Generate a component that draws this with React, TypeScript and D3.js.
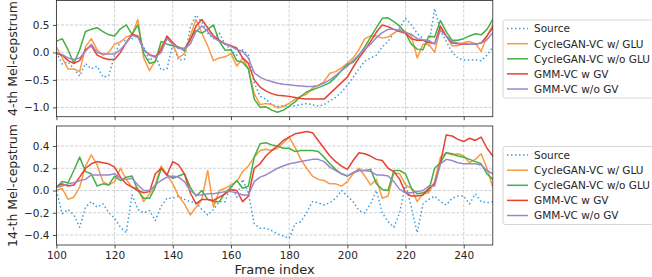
import { useEffect, useRef } from 'react'
import * as d3 from 'd3'

// frame index (every 2nd frame)
const frames = d3.range(100, 251, 2)

// 4-th Mel-cepstrum (upper panel)
const topSource = [
  0.0, -0.21, -0.17, -0.3, -0.43, -0.2, -0.3, -0.25, -0.45, -0.42,
  -0.05, 0.2, 0.22, 0.25, 0.3, 0.1, -0.15, -0.05, -0.32, -0.3,
  0.15, -0.14, -0.13, 0.45, 0.68, 0.55, 0.35, 0.25, 0.35, 0.15,
  0.05, -0.05, 0.05, -0.05, -0.55, -0.8, -0.85, -0.95, -0.98, -0.97,
  -0.98, -0.97, -0.95, -0.93, -0.95, -0.98, -0.95, -0.88, -0.82, -0.72,
  -0.6, -0.45, -0.3, -0.16, -0.1, -0.05, 0.1, 0.2, 0.35, 0.45,
  0.62, 0.5, 0.35, 0.25, 0.12, 0.8, 0.4, 0.2, 0.0, -0.1,
  -0.14, -0.14, -0.13, -0.15, -0.05, 0.1,
]
const topGluOn = [
  0.1, -0.1, -0.3, -0.3, -0.35, 0.1, 0.25, 0.05, -0.05, 0.0,
  0.15, 0.19, 0.28, 0.32, 0.6, -0.1, -0.33, -0.15, 0.1, 0.28,
  0.15, -0.1, -0.02, 0.3, 0.6, 0.35, 0.12, -0.15, -0.1, -0.08,
  -0.02, -0.25, -0.1, -0.3, -0.75, -0.95, -0.93, -0.95, -1.01, -0.98,
  -0.93, -0.85, -0.8, -0.76, -0.65, -0.6, -0.53, -0.38, -0.35, -0.28,
  -0.2, -0.1, 0.05, 0.25, 0.3, 0.3, 0.26, 0.28, 0.35, 0.42,
  0.38, 0.3, -0.1, 0.15, 0.15, 0.0, 0.45, 0.3, 0.12, 0.12,
  0.18, 0.2, 0.16, 0.02, 0.3, 0.5,
]
const topGluOff = [
  0.2, 0.25, 0.05, -0.2, 0.05, 0.38, 0.42, 0.45, 0.38, 0.32,
  0.3, 0.43, 0.5, 0.33, 0.5, -0.02, -0.2, -0.17, 0.2, 0.15,
  0.12, 0.1, 0.03, 0.25, 0.4, 0.35, 0.42, 0.5, 0.2, 0.04,
  0.05, -0.15, -0.18, -0.3, -0.85, -1.0, -0.99, -1.05, -1.09, -1.05,
  -0.98, -0.9, -0.8, -0.72, -0.68, -0.64, -0.6, -0.55, -0.45, -0.33,
  -0.22, -0.18, -0.05, 0.1, 0.28, 0.45, 0.62, 0.63, 0.56, 0.48,
  0.35, 0.15, 0.06, 0.05, 0.3, 0.28, 0.58, 0.38, 0.22, 0.22,
  0.25, 0.3, 0.34, 0.32, 0.42, 0.6,
]
const topGmmGv = [
  -0.02, -0.05, -0.15, -0.2, -0.15, 0.05, 0.12, -0.05, -0.1, -0.13,
  -0.13, 0.0, 0.18, 0.33, 0.3, 0.05, -0.04, -0.08, 0.05, 0.3,
  0.18, 0.08, 0.07, 0.22, 0.48, 0.6, 0.45, 0.3, 0.22, 0.16,
  0.12, 0.08, -0.1, -0.2, -0.5, -0.63, -0.7, -0.75, -0.78, -0.79,
  -0.8, -0.82, -0.84, -0.85, -0.85, -0.85, -0.85, -0.75, -0.65, -0.55,
  -0.45, -0.27, -0.1, 0.04, 0.2, 0.37, 0.5, 0.47, 0.42, 0.38,
  0.35, 0.25, 0.22, 0.22, 0.18, 0.16, 0.48, 0.3, 0.17, 0.16,
  0.15, 0.15, 0.15, 0.17, 0.3, 0.45,
]
const topGmm = [
  0.0, -0.04, -0.1, -0.13, -0.1, 0.02, 0.15, 0.0, -0.03, -0.03,
  -0.03, 0.05, 0.17, 0.31, 0.28, 0.05, -0.05, -0.09, 0.0, 0.25,
  0.15, 0.07, 0.07, 0.15, 0.38, 0.48, 0.38, 0.27, 0.2, 0.15,
  0.11, 0.05, 0.02, -0.1, -0.37, -0.45, -0.5, -0.53, -0.56, -0.58,
  -0.59, -0.6, -0.61, -0.62, -0.62, -0.6, -0.56, -0.5, -0.42, -0.33,
  -0.25, -0.15, -0.04, 0.06, 0.15, 0.27, 0.36, 0.42, 0.42, 0.4,
  0.36, 0.33, 0.25, 0.23, 0.22, 0.15, 0.4, 0.3, 0.2, 0.17,
  0.16, 0.15, 0.15, 0.17, 0.23, 0.36,
]

// 14-th Mel-cepstrum (lower panel)
const botSource = [
  0.0, -0.21, -0.17, -0.22, -0.33, -0.15, -0.1, -0.15, -0.12, -0.2,
  -0.25, -0.33, -0.38, -0.04, -0.17, -0.2, -0.18, -0.27, -0.14, -0.07,
  -0.07, -0.05, -0.08, -0.1, -0.11, -0.17, -0.22, -0.17, -0.1, -0.1,
  0.05, -0.06, 0.1, -0.02, -0.3, -0.34, -0.34, -0.36, -0.39, -0.41,
  -0.43, -0.3, -0.28, -0.2, -0.1, -0.11, -0.13, -0.11, -0.07, 0.0,
  -0.05, -0.1, -0.18, -0.2, -0.12, 0.0, -0.2, -0.28, -0.33, -0.2,
  0.06, -0.15, -0.38, -0.12, -0.08, -0.05, -0.1, -0.13, -0.07, -0.05,
  -0.05, -0.12, -0.03, -0.1, -0.11, -0.1,
]
const botGluOn = [
  0.0, 0.02, -0.08, -0.06, 0.03, 0.22, 0.32, 0.23, 0.08, 0.05,
  0.08, 0.2, 0.1, 0.03, 0.02, -0.1, -0.03, 0.05, 0.22, 0.14,
  0.06, -0.05, -0.12, -0.22, -0.15, -0.08, 0.18, -0.15, 0.0, 0.02,
  0.05, 0.08, 0.17, 0.22, 0.3, 0.36, 0.37, 0.36, 0.38, 0.43,
  0.48, 0.39, 0.28, 0.2, 0.13, 0.1, 0.09, 0.06, 0.06, 0.04,
  0.08, 0.15, 0.2, 0.13, 0.05, 0.1, -0.07, -0.05, 0.16, 0.15,
  0.05, 0.02, -0.1, -0.03, -0.02, 0.08, 0.3, 0.34, 0.32, 0.33,
  0.31, 0.25, 0.28, 0.33, 0.2, 0.03,
]
const botGluOff = [
  0.03, 0.08, 0.07, 0.18, 0.3, 0.17, 0.15, 0.04, 0.06, 0.05,
  0.13, 0.09, 0.12, 0.13, 0.0, -0.07, -0.07, 0.03, 0.2, 0.14,
  0.11, 0.13, 0.15, 0.03, -0.05, 0.0, -0.08, -0.1, -0.1, -0.02,
  0.03, 0.09, 0.02, 0.04, 0.3, 0.42, 0.43, 0.41, 0.4, 0.38,
  0.38, 0.35, 0.36, 0.36, 0.36, 0.35, 0.3, 0.24, 0.19, 0.15,
  0.13, 0.16, 0.18, 0.18, 0.19, 0.06, 0.01, 0.0, 0.18, 0.18,
  0.15, 0.02, -0.03, -0.02, 0.0, 0.2, 0.25, 0.34, 0.33, 0.31,
  0.3, 0.28, 0.26, 0.24, 0.15, 0.1,
]
const botGmmGv = [
  0.03, 0.06, 0.04, 0.05, 0.12, 0.2, 0.24, 0.26, 0.25, 0.24,
  0.21, 0.12, 0.06, 0.03, 0.0, -0.02, -0.01, 0.15, 0.2, 0.14,
  0.26, 0.23, 0.15, -0.02, -0.12, -0.08, -0.08, -0.09, -0.06, -0.03,
  0.01, 0.0, -0.1, -0.05, 0.2, 0.24, 0.31, 0.36, 0.4, 0.45,
  0.48, 0.51, 0.52, 0.53, 0.52, 0.45, 0.38, 0.31, 0.26, 0.22,
  0.19, 0.27, 0.34, 0.33, 0.31, 0.28, 0.27, 0.2, 0.17, 0.1,
  -0.02, -0.05, -0.05, -0.04, 0.02, 0.06, 0.25, 0.5, 0.49, 0.46,
  0.44, 0.47, 0.45, 0.48, 0.38, 0.31,
]
const botGmm = [
  0.03, 0.04, 0.06, 0.07, 0.09, 0.1, 0.14, 0.14, 0.14, 0.14,
  0.15, 0.11, 0.1, 0.11, 0.05, 0.0, 0.0, 0.05, 0.09, 0.12,
  0.13, 0.12, 0.08, 0.0, -0.04, -0.04, -0.03, -0.03, -0.02, -0.01,
  -0.01, -0.02, -0.04, -0.04, 0.08, 0.12, 0.14, 0.17, 0.2, 0.22,
  0.24, 0.25, 0.26, 0.27, 0.28, 0.28, 0.26, 0.21, 0.18, 0.15,
  0.13, 0.16, 0.18, 0.18, 0.17, 0.14, 0.14, 0.13, 0.08, 0.01,
  -0.02, -0.02, -0.01, 0.0, 0.04, 0.04, 0.24, 0.28, 0.27, 0.25,
  0.24, 0.24, 0.24, 0.23, 0.18, 0.15,
]

const seriesNames = ['Source', 'CycleGAN-VC w/ GLU', 'CycleGAN-VC w/o GLU', 'GMM-VC w GV', 'GMM-VC w/o GV']
const seriesColors = ['#3d9ddd', '#fb9a40', '#45b045', '#e8412f', '#9b88cc']
const xTicks = [100, 120, 140, 160, 180, 200, 220, 240]
const topTicks = [-1.0, -0.5, 0.0, 0.5]
const botTicks = [-0.4, -0.2, 0.0, 0.2, 0.4]

const FONT = '"DejaVu Sans", sans-serif'
const INK = '#262626'

const panels = [
  { key: 'top', data: [topSource, topGluOn, topGluOff, topGmmGv, topGmm], domain: [-1.17, 0.945], top: 0.5, bottom: 116.7, ticks: topTicks, label: '4-th Mel-cepstrum', legendTop: 20, xLabels: false },
  { key: 'bot', data: [botSource, botGluOn, botGluOff, botGmmGv, botGmm], domain: [-0.49, 0.58], top: 126, bottom: 245, ticks: botTicks, label: '14-th Mel-cepstrum', legendTop: 146.5, xLabels: true },
]

export default function App() {
  const ref = useRef<SVGSVGElement>(null)

  useEffect(() => {
    const svg = d3.select(ref.current)
    svg.selectAll('*').remove()

    const x = d3.scaleLinear().domain([100, 250]).range([56.4, 492.8])
    const [left, right] = x.range()

    panels.forEach((p) => {
      const y = d3.scaleLinear().domain(p.domain).range([p.bottom, p.top])
      const g = svg.append('g')

      // dashed grid
      g.append('g').selectAll('line').data(xTicks).join('line')
        .attr('x1', d => x(d)).attr('x2', d => x(d)).attr('y1', p.top).attr('y2', p.bottom)
        .attr('stroke', '#c4c4c4').attr('stroke-width', 0.8).attr('stroke-dasharray', '3,1.6')
      g.append('g').selectAll('line').data(p.ticks).join('line')
        .attr('x1', left).attr('x2', right).attr('y1', d => y(d)).attr('y2', d => y(d))
        .attr('stroke', '#c4c4c4').attr('stroke-width', 0.8).attr('stroke-dasharray', '3,1.6')

      // series, clipped to the axes box
      const clipId = `clip-${p.key}`
      svg.append('clipPath').attr('id', clipId).append('rect')
        .attr('x', left).attr('y', p.top).attr('width', right - left).attr('height', p.bottom - p.top)
      const line = d3.line<number>().x((_, i) => x(frames[i])).y(d => y(d))
      g.append('g').attr('clip-path', `url(#${clipId})`)
        .selectAll('path').data(p.data).join('path')
        .attr('d', d => line(d))
        .attr('fill', 'none')
        .attr('stroke', (_, i) => seriesColors[i])
        .attr('stroke-width', 1.5)
        .attr('stroke-linejoin', 'round')
        .attr('stroke-dasharray', (_, i) => (i === 0 ? '1.5,2.5' : null))

      // axes
      const yAxis = d3.axisLeft(y).tickValues(p.ticks).tickFormat(d3.format('.1f')).tickSize(3.5).tickPadding(3.5)
      g.append('g').attr('transform', `translate(${left},0)`).call(yAxis)
        .attr('font-family', FONT).attr('font-size', 10.5)
        .call(a => a.select('.domain').remove())
        .call(a => a.selectAll('line').attr('stroke', INK).attr('stroke-width', 0.8))
        .call(a => a.selectAll('text').attr('fill', INK))

      const xAxis = d3.axisBottom(x).tickValues(xTicks).tickSize(3.5).tickPadding(3.5)
        .tickFormat(p.xLabels ? d3.format('d') : () => '')
      g.append('g').attr('transform', `translate(0,${p.bottom})`).call(xAxis)
        .attr('font-family', FONT).attr('font-size', 10.5)
        .call(a => a.select('.domain').remove())
        .call(a => a.selectAll('line').attr('stroke', INK).attr('stroke-width', 0.8))
        .call(a => a.selectAll('text').attr('fill', INK))

      // frame
      g.append('rect')
        .attr('x', left).attr('y', p.top).attr('width', right - left).attr('height', p.bottom - p.top)
        .attr('fill', 'none').attr('stroke', INK).attr('stroke-width', 0.8)

      // y label
      g.append('text')
        .attr('transform', `translate(16.5,${(p.top + p.bottom) / 2}) rotate(-90)`)
        .attr('text-anchor', 'middle')
        .attr('font-family', FONT).attr('font-size', 12.5).attr('fill', INK)
        .text(p.label)

      // legend
      const lg = svg.append('g').attr('transform', `translate(503,${p.legendTop})`)
      lg.append('rect').attr('width', 180).attr('height', 78).attr('rx', 2.5)
        .attr('fill', '#fff').attr('fill-opacity', 0.8).attr('stroke', '#cccccc').attr('stroke-width', 0.8)
      const rows = lg.selectAll('g').data(seriesNames).join('g')
        .attr('transform', (_, i) => `translate(0,${8.6 + i * 15.1})`)
      rows.append('line').attr('x1', 4).attr('x2', 25)
        .attr('stroke', (_, i) => seriesColors[i]).attr('stroke-width', 1.5)
        .attr('stroke-dasharray', (_, i) => (i === 0 ? '1.5,2.5' : null))
      rows.append('text').attr('x', 31).attr('y', 3.8)
        .attr('font-family', FONT).attr('font-size', 10.5).attr('fill', INK)
        .text(d => d)
    })

    svg.append('text')
      .attr('x', (left + right) / 2).attr('y', 274)
      .attr('text-anchor', 'middle')
      .attr('font-family', FONT).attr('font-size', 13).attr('fill', INK)
      .text('Frame index')
  }, [])

  return <svg ref={ref} width={652} height={277} style={{ position: 'absolute', left: 0, top: 0, background: '#fff' }} />
}
